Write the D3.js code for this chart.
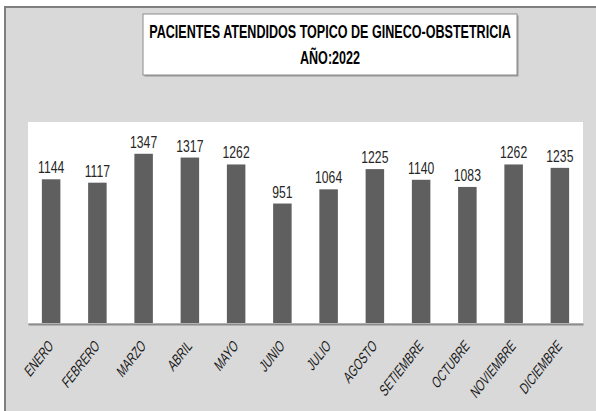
<!DOCTYPE html>
<html><head><meta charset="utf-8">
<script src="https://cdn.jsdelivr.net/npm/d3@7"></script>
<style>
html,body{margin:0;padding:0;background:#fff;}
svg{display:block;}
</style></head>
<body>
<script>
const months = ["ENERO","FEBRERO","MARZO","ABRIL","MAYO","JUNIO","JULIO","AGOSTO","SETIEMBRE","OCTUBRE","NOVIEMBRE","DICIEMBRE"];
const patients = [1144,1117,1347,1317,1262,951,1064,1225,1140,1083,1262,1235];
const titleLines = ["PACIENTES ATENDIDOS TOPICO DE GINECO-OBSTETRICIA","AÑO:2022"];
const yDomain = [0,1600];

const W = 596, H = 411;
const FONT = "'Liberation Sans',Arial,sans-serif";
const svg = d3.select("body").append("svg").attr("width",W).attr("height",H);

// condense text horizontally (emulates a narrow font)
function condense(sel, factor){
  sel.each(function(){
    const n = this; const L = n.getComputedTextLength();
    d3.select(n).attr("textLength",L*factor).attr("lengthAdjust","spacingAndGlyphs");
  });
}

// outer chart background + frame
svg.append("rect").attr("x",5).attr("y",7).attr("width",W+10).attr("height",H+10)
  .attr("fill","#d9d9d9").attr("stroke","#7f7f7f").attr("stroke-width",2);

// plot area
const plot = {x0:28, x1:583, y0:122, y1:323};
svg.append("rect").attr("x",plot.x0).attr("y",plot.y0).attr("width",plot.x1-plot.x0).attr("height",plot.y1-plot.y0)
  .attr("fill","#ffffff");

const x = d3.scaleBand().domain(months).range([plot.x0,plot.x1]).paddingInner(0.6).paddingOuter(0.3);
const y = d3.scaleLinear().domain(yDomain).range([plot.y1,plot.y0]);

// bars
svg.append("g").selectAll("rect").data(patients).join("rect")
  .attr("x",(d,i)=>x(months[i]))
  .attr("y",d=>y(d))
  .attr("width",x.bandwidth())
  .attr("height",d=>y(0)-y(d))
  .attr("fill","#5f5f5f");

// value labels
const vl = svg.append("g").selectAll("text").data(patients).join("text")
  .attr("x",(d,i)=>x(months[i])+x.bandwidth()/2)
  .attr("y",d=>y(d)-6)
  .attr("text-anchor","middle")
  .attr("font-family",FONT)
  .attr("font-size",16)
  .attr("fill","#262626")
  .text(d=>d);
condense(vl,0.76);

// x axis
const xAxis = svg.append("g").attr("transform",`translate(0,${plot.y1+1})`)
  .call(d3.axisBottom(x).tickSize(0).tickFormat(""));
xAxis.select(".domain").attr("stroke","#8c8c8c").attr("stroke-width",2.2);

const xl = xAxis.selectAll(".tick").append("text")
  .attr("fill","#1a1a1a")
  .attr("font-family",FONT)
  .attr("font-size",14.5)
  .attr("text-anchor","end")
  .attr("transform","translate(3,23) rotate(-52) skewX(-14)")
  .text(d=>d);
condense(xl,0.76);

// title box
const tb = {x:143,y:14,w:374,h:61};
svg.append("rect").attr("x",tb.x+1.5).attr("y",tb.y+1.5).attr("width",tb.w).attr("height",tb.h).attr("fill","#9a9a9a");
svg.append("rect").attr("x",tb.x).attr("y",tb.y).attr("width",tb.w).attr("height",tb.h)
  .attr("fill","#ffffff").attr("stroke","#8c8c8c").attr("stroke-width",1);
const tfs = 17.5;
const cx = tb.x+tb.w/2;
const t1 = svg.append("text").attr("text-anchor","middle")
  .attr("font-family",FONT).attr("font-weight","bold").attr("font-size",tfs).attr("fill","#000")
  .text(titleLines[0]);
const sx = 362/t1.node().getComputedTextLength();
t1.attr("transform",`translate(${cx},37.5) scale(${sx},1)`);
svg.append("text").attr("text-anchor","middle")
  .attr("font-family",FONT).attr("font-weight","bold").attr("font-size",tfs).attr("fill","#000")
  .attr("transform",`translate(${cx},63.5) scale(${sx},1)`)
  .text(titleLines[1]);
</script>
</body></html>
